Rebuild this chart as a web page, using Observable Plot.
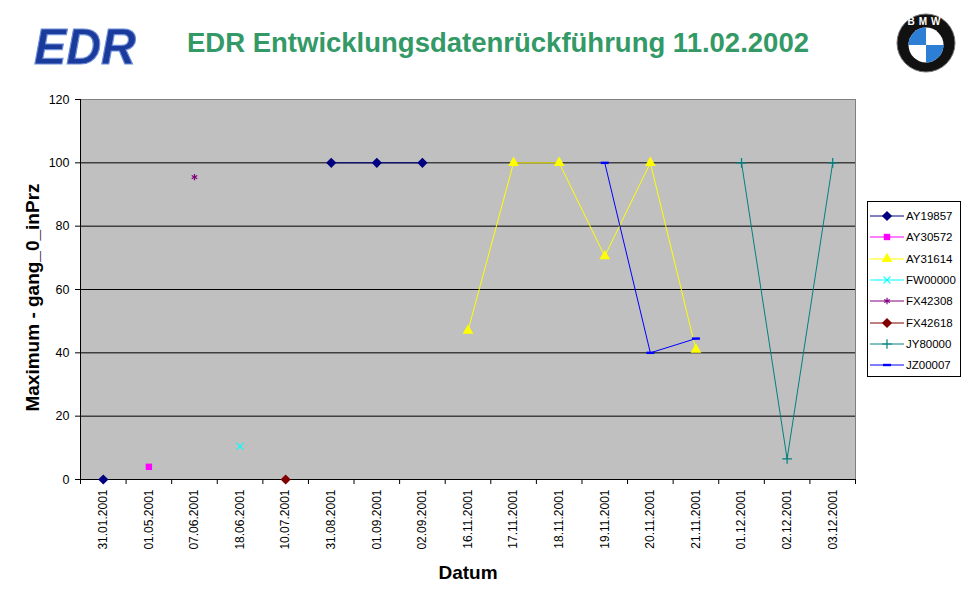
<!DOCTYPE html>
<html><head><meta charset="utf-8">
<script src="https://cdn.jsdelivr.net/npm/d3@7"></script>
<script src="https://cdn.jsdelivr.net/npm/@observablehq/plot@0.6"></script>
<style>
body{margin:0;background:#fff;font-family:"Liberation Sans",Arial,sans-serif;}
#wrap{position:relative;width:970px;height:603px;overflow:hidden;background:#fff}
#title{position:absolute;left:0;width:996px;top:27px;text-align:center;font-weight:bold;font-size:27.5px;line-height:32px;color:#339966;white-space:nowrap}
#legend{position:absolute;left:867px;top:201px;width:92px;height:174px;border:1px solid #000;background:#fff;font-size:11.5px}
.li{position:absolute;left:0;height:16px;display:flex;align-items:center}
.li span{margin-left:1px;line-height:16px}
#edr{position:absolute;left:22px;top:16px}
#bmw{position:absolute;left:895px;top:12px}
#chart{position:absolute;left:0;top:0}
</style></head>
<body><div id="wrap">
<div id="chart"></div>
<svg id="edr" width="130" height="58" viewBox="0 0 130 58">
  <text x="12" y="48" textLength="102" lengthAdjust="spacingAndGlyphs" font-family="Liberation Sans, Arial" font-weight="bold" font-style="italic" font-size="50" fill="#1a3a9c" stroke="#6f8fd8" stroke-width="1.2">EDR</text>
</svg>
<svg id="bmw" width="62" height="62" viewBox="0 0 62 62">
  <circle cx="31" cy="31" r="29" fill="#111"/>
  <circle cx="31" cy="31" r="29" fill="none" stroke="#777" stroke-width="1"/>
  <circle cx="31" cy="33" r="17.5" fill="#fff"/>
  <path d="M31 33 L31 15.5 A17.5 17.5 0 0 0 13.5 33 Z" fill="#2d7fd6"/>
  <path d="M31 33 L31 50.5 A17.5 17.5 0 0 0 48.5 33 Z" fill="#2d7fd6"/>
  <text x="31" y="13" text-anchor="middle" font-family="Liberation Sans, Arial" font-weight="bold" font-size="10" fill="#fff" letter-spacing="4">BMW</text>
</svg>
<div id="title">EDR Entwicklungsdatenrückführung 11.02.2002</div>
<div id="legend"></div>
</div>
<script>
const dates = ["31.01.2001","01.05.2001","07.06.2001","18.06.2001","10.07.2001","31.08.2001","01.09.2001","02.09.2001","16.11.2001","17.11.2001","18.11.2001","19.11.2001","20.11.2001","21.11.2001","01.12.2001","02.12.2001","03.12.2001"];
const seriesNames = ["AY19857","AY30572","AY31614","FW00000","FX42308","FX42618","JY80000","JZ00007"];
const AY19857 = [0,null,null,null,null,100,100,100,null,null,null,null,null,null,null,null,null];
const AY30572 = [null,4,null,null,null,null,null,null,null,null,null,null,null,null,null,null,null];
const AY31614 = [null,null,null,null,null,null,null,null,47,100,100,70.5,100,41,null,null,null];
const FW00000 = [null,null,null,10.5,null,null,null,null,null,null,null,null,null,null,null,null,null];
const FX42308 = [null,null,95.5,null,null,null,null,null,null,null,null,null,null,null,null,null,null];
const FX42618 = [null,null,null,null,0,null,null,null,null,null,null,null,null,null,null,null,null];
const JY80000 = [null,null,null,null,null,null,null,null,null,null,null,null,null,null,100,6.5,100];
const JZ00007 = [null,null,null,null,null,null,null,null,null,null,null,100,40,44.5,null,null,null];
const seriesValues = [AY19857,AY30572,AY31614,FW00000,FX42308,FX42618,JY80000,JZ00007];
const seriesColors = ["#000080","#FF00FF","#FFFF00","#00FFFF","#800080","#800000","#008080","#0000FF"];
const yTicks = [0,20,40,60,80,100,120];

const dash = {draw(ctx, size){ const w = Math.sqrt(size)*0.75, h = 1.2; ctx.rect(-w, -h, 2*w, 2*h); }};
const markerStyle = [
  {symbol:"diamond2", r:4.6, filled:true},
  {symbol:"square", r:3.6, filled:true},
  {symbol:"triangle", r:4, filled:true},
  {symbol:"times", r:3.2, filled:false},
  {symbol:"asterisk", r:3, filled:false},
  {symbol:"diamond2", r:4.6, filled:true},
  {symbol:"plus", r:3.2, filled:false},
  {symbol:dash, r:3, filled:true}
];

const W = 970, H = 603, mL = 80, mR = 115, mT = 99, mB = 124;
const step = (W - mL - mR) / dates.length;

const marks = [
  Plot.frame({fill:"#C0C0C0", stroke:"#808080"}),
  Plot.gridY({ticks:[20,40,60,80,100], stroke:"#000", strokeOpacity:1}),
  Plot.axisY({ticks:yTicks, tickSize:5, tickPadding:6, fontSize:12.5, label:null}),
  Plot.axisX({tickSize:5, tickFormat:() => "", dx:-step/2, label:null}),
  Plot.axisX([dates[dates.length-1]], {tickSize:5, tickFormat:() => "", dx:step/2, label:null}),
  Plot.axisX({tickSize:0, tickRotate:-90, tickPadding:10, fontSize:12, label:null}),
  Plot.frame({anchor:"left", stroke:"#000"}),
  Plot.ruleY([0], {stroke:"#000"}),
  Plot.text(["Datum"], {frameAnchor:"bottom", dy:93, lineAnchor:"middle", textAnchor:"middle", fontWeight:"bold", fontSize:19}),
  Plot.text(["Maximum - gang_0_inPrz"], {frameAnchor:"left", dx:-48, dy:8, rotate:-90, textAnchor:"middle", lineAnchor:"middle", fontWeight:"bold", fontSize:19})
];
seriesNames.forEach((name, i) => {
  const rows = dates.map((d, j) => ({date:d, value:seriesValues[i][j]}));
  const c = seriesColors[i], m = markerStyle[i];
  marks.push(Plot.line(rows, {x:"date", y:"value", stroke:c, strokeWidth:1}));
  marks.push(Plot.dot(rows.filter(r => r.value != null), {x:"date", y:"value", symbol:m.symbol, r:m.r,
    fill: m.filled ? c : "none", stroke: m.filled ? "none" : c, strokeWidth:1.2}));
});

const chart = Plot.plot({
  width:W, height:H, marginLeft:mL, marginRight:mR, marginTop:mT, marginBottom:mB,
  style:{background:"transparent", fontFamily:"'Liberation Sans', Arial, sans-serif", color:"#000", overflow:"visible"},
  x:{type:"point", domain:dates, padding:0.5, round:false},
  y:{domain:[0,120]},
  marks
});
document.getElementById("chart").appendChild(chart);

// legend
const leg = document.getElementById("legend");
seriesNames.forEach((name, i) => {
  const c = seriesColors[i], m = markerStyle[i];
  const item = document.createElement("div");
  item.className = "li";
  item.style.top = (6 + i * 21.3) + "px";
  const svg = d3.create("svg").attr("width", 37).attr("height", 16);
  svg.append("line").attr("x1", 2).attr("x2", 36).attr("y1", 8).attr("y2", 8).attr("stroke", c);
  const symType = typeof m.symbol === "string" ? ({diamond2:d3.symbolDiamond2, square:d3.symbolSquare, triangle:d3.symbolTriangle, times:d3.symbolTimes, asterisk:d3.symbolAsterisk, plus:d3.symbolPlus})[m.symbol] : m.symbol;
  svg.append("path").attr("transform", "translate(19,8)")
    .attr("d", d3.symbol(symType, m.r * m.r * Math.PI)())
    .attr("fill", m.filled ? c : "none").attr("stroke", m.filled ? "none" : c).attr("stroke-width", 1.2);
  item.appendChild(svg.node());
  const sp = document.createElement("span");
  sp.textContent = name;
  item.appendChild(sp);
  leg.appendChild(item);
});
</script>
</body></html>
